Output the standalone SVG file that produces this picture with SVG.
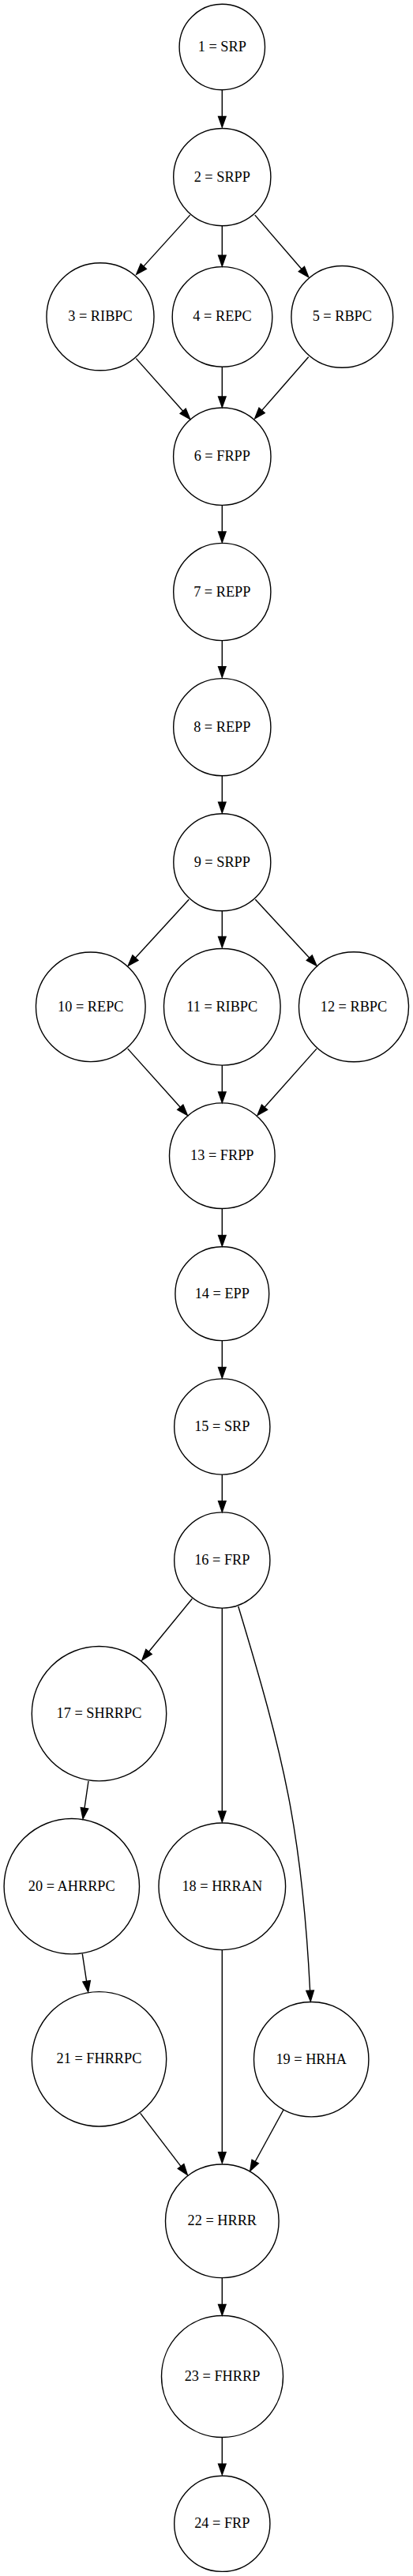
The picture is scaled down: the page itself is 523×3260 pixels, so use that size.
<svg xmlns="http://www.w3.org/2000/svg" width="523" height="3260" viewBox="0 0 523 3260">
<defs>
<style>
.n ellipse{fill:none;stroke:#000;stroke-width:1.4}
.n text{font-family:"Liberation Serif","Times New Roman",serif;font-size:18.3px;text-anchor:middle;fill:#000}
.e path,.e line{fill:none;stroke:#000;stroke-width:1.4;marker-end:url(#ah)}
</style>
<marker id="ah" markerUnits="userSpaceOnUse" markerWidth="16" markerHeight="12" refX="0" refY="0" viewBox="0 -6 16 12" orient="auto" overflow="visible">
<path d="M0,-4.75 L13.5,0 L0,4.75 Z" fill="#000" stroke="#000" stroke-width="1.4"/>
</marker>
</defs>
<rect width="523" height="3260" fill="#fff"/>
<g id="edges" class="e">
<line x1="281.3" y1="113.6" x2="281.3" y2="147.5"/>
<line x1="240.7" y1="272.1" x2="181.8" y2="337.1"/>
<line x1="281.3" y1="285.7" x2="281.3" y2="323.3"/>
<line x1="322.7" y1="272.1" x2="381.9" y2="340.5"/>
<line x1="172.3" y1="453.6" x2="231.7" y2="520.3"/>
<line x1="281.3" y1="464.3" x2="281.3" y2="501.9"/>
<line x1="390.7" y1="451.8" x2="331.6" y2="519.4"/>
<line x1="281.3" y1="639.3" x2="281.3" y2="672.9"/>
<line x1="281.3" y1="810.7" x2="281.3" y2="843.6"/>
<line x1="281.3" y1="981.8" x2="281.3" y2="1015.1"/>
<line x1="239.3" y1="1138.2" x2="171.4" y2="1212.2"/>
<line x1="281.3" y1="1152.5" x2="281.3" y2="1185.4"/>
<line x1="323.3" y1="1138.2" x2="391.8" y2="1212.2"/>
<line x1="161.7" y1="1327.1" x2="228.3" y2="1401.3"/>
<line x1="281.3" y1="1347.9" x2="281.3" y2="1381.9"/>
<line x1="401" y1="1327.1" x2="335" y2="1401.3"/>
<line x1="281.3" y1="1529.3" x2="281.3" y2="1563.5"/>
<line x1="281.3" y1="1696.7" x2="281.3" y2="1730.5"/>
<line x1="281.3" y1="1866" x2="281.3" y2="1899.8"/>
<line x1="243.3" y1="2023.3" x2="188.5" y2="2090.3"/>
<line x1="281.3" y1="2035" x2="281.3" y2="2292.2"/>
<path d="M301.7,2032.7 C359.7,2224 382.6,2319.2 392.6,2519.2"/>
<line x1="112" y1="2254" x2="107" y2="2288.3"/>
<line x1="104.3" y1="2472.7" x2="109.6" y2="2507.4"/>
<line x1="281.3" y1="2467.7" x2="281.3" y2="2723.8"/>
<line x1="177.7" y1="2674.3" x2="229.1" y2="2741.6"/>
<line x1="359" y1="2670" x2="323.2" y2="2735.5"/>
<line x1="281.3" y1="2882.3" x2="281.3" y2="2916.5"/>
<line x1="281.3" y1="3084.3" x2="281.3" y2="3118.2"/>
</g>
<g id="node1" class="n"><ellipse cx="281.3" cy="59.5" rx="54.2" ry="54.2"/><text x="281.3" y="65">1 = SRP</text></g>
<g id="node2" class="n"><ellipse cx="281.3" cy="224.1" rx="61.6" ry="61.6"/><text x="281.3" y="229.6">2 = SRPP</text></g>
<g id="node3" class="n"><ellipse cx="127" cy="400.8" rx="68" ry="68"/><text x="127" y="406.3">3 = RIBPC</text></g>
<g id="node4" class="n"><ellipse cx="281.5" cy="400.9" rx="63.3" ry="63.3"/><text x="281.5" y="406.4">4 = REPC</text></g>
<g id="node5" class="n"><ellipse cx="433.3" cy="400.9" rx="64.4" ry="64.4"/><text x="433.3" y="406.4">5 = RBPC</text></g>
<g id="node6" class="n"><ellipse cx="281.3" cy="577.7" rx="61.7" ry="61.7"/><text x="281.3" y="583.2">6 = FRPP</text></g>
<g id="node7" class="n"><ellipse cx="281.3" cy="749" rx="61.6" ry="61.6"/><text x="281.3" y="754.5">7 = REPP</text></g>
<g id="node8" class="n"><ellipse cx="281.3" cy="920.2" rx="61.6" ry="61.6"/><text x="281.3" y="925.7">8 = REPP</text></g>
<g id="node9" class="n"><ellipse cx="281.3" cy="1091.3" rx="61.5" ry="61.5"/><text x="281.3" y="1096.8">9 = SRPP</text></g>
<g id="node10" class="n"><ellipse cx="114.8" cy="1274.3" rx="69.3" ry="69.3"/><text x="114.8" y="1279.8">10 = REPC</text></g>
<g id="node11" class="n"><ellipse cx="281.3" cy="1274.3" rx="73.8" ry="73.8"/><text x="281.3" y="1279.8">11 = RIBPC</text></g>
<g id="node12" class="n"><ellipse cx="448" cy="1274.3" rx="69.5" ry="69.5"/><text x="448" y="1279.8">12 = RBPC</text></g>
<g id="node13" class="n"><ellipse cx="281.3" cy="1462.7" rx="66.8" ry="66.8"/><text x="281.3" y="1468.2">13 = FRPP</text></g>
<g id="node14" class="n"><ellipse cx="281.3" cy="1637.2" rx="59.4" ry="59.4"/><text x="281.3" y="1642.7">14 = EPP</text></g>
<g id="node15" class="n"><ellipse cx="281.3" cy="1805.5" rx="60.6" ry="60.6"/><text x="281.3" y="1811">15 = SRP</text></g>
<g id="node16" class="n"><ellipse cx="281.3" cy="1974.5" rx="60.6" ry="60.6"/><text x="281.3" y="1980">16 = FRP</text></g>
<g id="node17" class="n"><ellipse cx="125.5" cy="2168.7" rx="85.2" ry="85.2"/><text x="125.5" y="2174.2">17 = SHRRPC</text></g>
<g id="node18" class="n"><ellipse cx="281.3" cy="2387.3" rx="80.3" ry="80.3"/><text x="281.3" y="2392.8">18 = HRRAN</text></g>
<g id="node19" class="n"><ellipse cx="394.2" cy="2606.2" rx="72.7" ry="72.7"/><text x="394.2" y="2611.7">19 = HRHA</text></g>
<g id="node20" class="n"><ellipse cx="90.8" cy="2387.2" rx="85.7" ry="85.7"/><text x="90.8" y="2392.7">20 = AHRRPC</text></g>
<g id="node21" class="n"><ellipse cx="125.5" cy="2605.8" rx="85.2" ry="85.2"/><text x="125.5" y="2611.3">21 = FHRRPC</text></g>
<g id="node22" class="n"><ellipse cx="281.3" cy="2810.8" rx="71.8" ry="71.8"/><text x="281.3" y="2816.3">22 = HRRR</text></g>
<g id="node23" class="n"><ellipse cx="281.5" cy="3007.5" rx="77" ry="77"/><text x="281.5" y="3013">23 = FHRRP</text></g>
<g id="node24" class="n"><ellipse cx="281.3" cy="3193.8" rx="60.6" ry="60.6"/><text x="281.3" y="3199.3">24 = FRP</text></g>
</svg>
